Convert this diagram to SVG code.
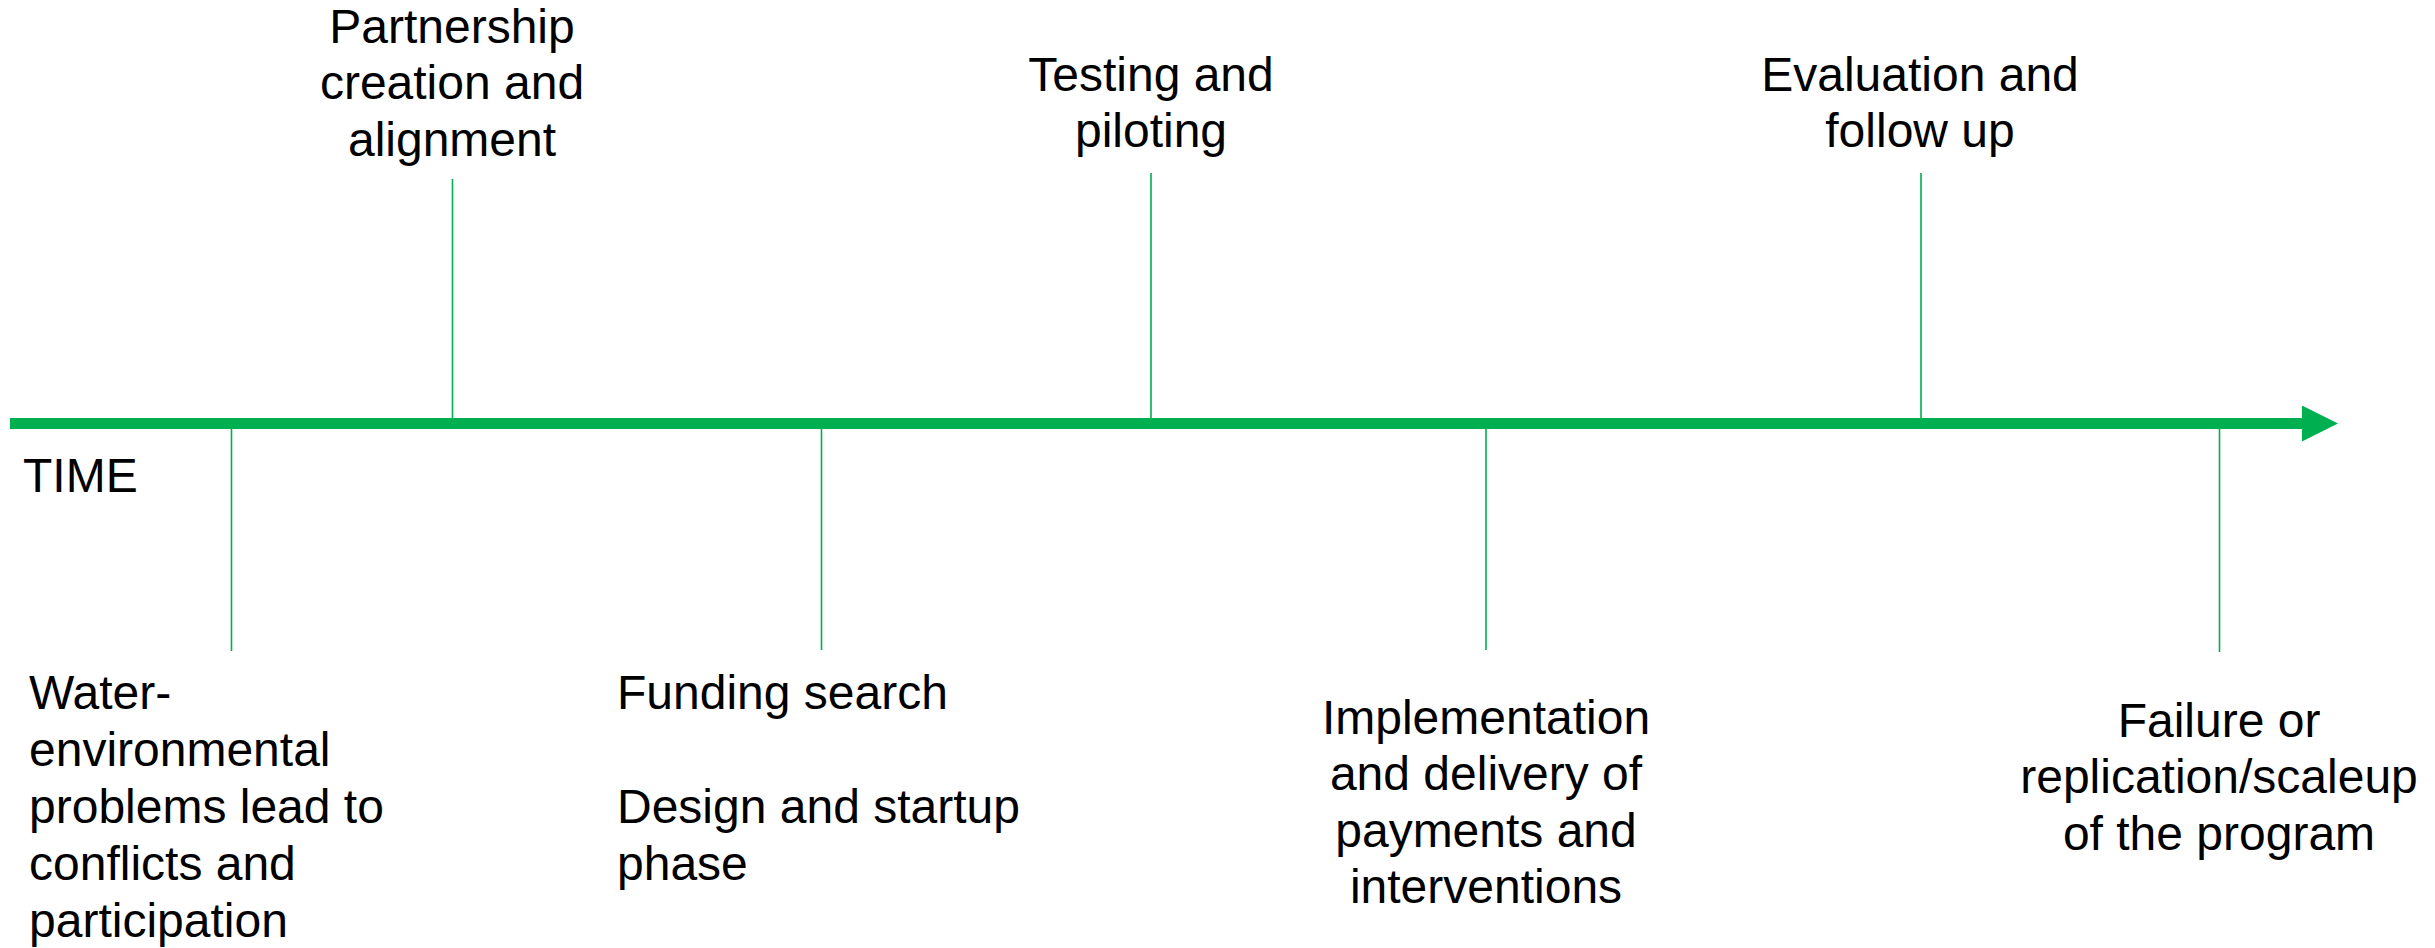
<svg xmlns="http://www.w3.org/2000/svg" width="2435" height="948" viewBox="0 0 2435 948">
  <style>
    .lbl { font-family: "Liberation Sans", Arial, sans-serif; font-size: 48px; fill: #000000; }
    .mid { text-anchor: middle; }
    .tick { stroke: #00B050; stroke-width: 1.6; fill: none; }
    .axis { stroke: #00B050; stroke-width: 11; fill: none; }
  </style>
  <defs>
    <marker id="axisHead" markerUnits="userSpaceOnUse" markerWidth="36" markerHeight="36" refX="0" refY="18" orient="auto">
      <path d="M0,0 L36,18 L0,36 Z" fill="#00B050"/>
    </marker>
  </defs>

  <!-- time axis and phase ticks -->
  <g id="connectors">
    <line class="axis" x1="10" y1="423.5" x2="2302" y2="423.5" marker-end="url(#axisHead)"/>
    <line class="tick" x1="231.5" y1="429" x2="231.5" y2="651"/>
    <line class="tick" x1="452.5" y1="179" x2="452.5" y2="418"/>
    <line class="tick" x1="821.5" y1="429" x2="821.5" y2="650"/>
    <line class="tick" x1="1151" y1="173" x2="1151" y2="418"/>
    <line class="tick" x1="1486" y1="429" x2="1486" y2="650"/>
    <line class="tick" x1="1921" y1="173" x2="1921" y2="418"/>
    <line class="tick" x1="2219.5" y1="429" x2="2219.5" y2="652"/>
  </g>

  <g id="axis-label">
    <text class="lbl" x="23" y="492">TIME</text>
  </g>

  <g id="phase-problems">
    <text class="lbl" x="29" y="709">Water-</text>
    <text class="lbl" x="29" y="766">environmental</text>
    <text class="lbl" x="29" y="823">problems lead to</text>
    <text class="lbl" x="29" y="880">conflicts and</text>
    <text class="lbl" x="29" y="937">participation</text>
  </g>

  <g id="phase-partnership">
    <text class="lbl mid" x="452" y="43">Partnership</text>
    <text class="lbl mid" x="452" y="99">creation and</text>
    <text class="lbl mid" x="452" y="156">alignment</text>
  </g>

  <g id="phase-funding">
    <text class="lbl" x="617" y="709">Funding search</text>
    <text class="lbl" x="617" y="823">Design and startup</text>
    <text class="lbl" x="617" y="880">phase</text>
  </g>

  <g id="phase-testing">
    <text class="lbl mid" x="1151" y="91">Testing and</text>
    <text class="lbl mid" x="1151" y="147">piloting</text>
  </g>

  <g id="phase-implementation">
    <text class="lbl mid" x="1486" y="734">Implementation</text>
    <text class="lbl mid" x="1486" y="790">and delivery of</text>
    <text class="lbl mid" x="1486" y="847">payments and</text>
    <text class="lbl mid" x="1486" y="903">interventions</text>
  </g>

  <g id="phase-evaluation">
    <text class="lbl mid" x="1920" y="91">Evaluation and</text>
    <text class="lbl mid" x="1920" y="147">follow up</text>
  </g>

  <g id="phase-outcome">
    <text class="lbl mid" x="2219" y="737">Failure or</text>
    <text class="lbl mid" x="2219" y="793">replication/scaleup</text>
    <text class="lbl mid" x="2219" y="850">of the program</text>
  </g>
</svg>
